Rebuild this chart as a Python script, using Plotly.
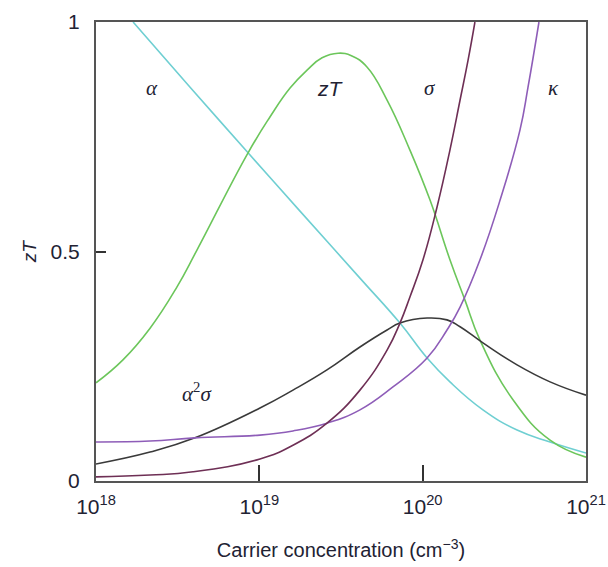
import numpy as np
import plotly.graph_objects as go

# Carrier concentration given as log10(n / cm^-3); curves on a 0..1 scale
alpha_logn = [18.227, 18.576, 18.931, 19.249, 19.616, 19.861, 20.027, 20.167, 20.369, 20.578, 20.780, 21.0]
alpha_val = [1.0, 0.858, 0.715, 0.588, 0.442, 0.344, 0.268, 0.216, 0.155, 0.111, 0.085, 0.061]

zt_logn = [18.0, 18.165, 18.331, 18.496, 18.618, 18.931, 19.065, 19.188, 19.292, 19.384,
           19.482, 19.567, 19.659, 19.782, 19.922, 20.045, 20.167, 20.259, 20.351, 20.553, 20.780, 21.0]
zt_val = [0.214, 0.264, 0.333, 0.423, 0.503, 0.715, 0.793, 0.856, 0.895, 0.922,
          0.932, 0.926, 0.902, 0.830, 0.721, 0.612, 0.482, 0.394, 0.307, 0.177, 0.089, 0.052]

pf_logn = [18.0, 18.331, 18.606, 19.004, 19.206, 19.414, 19.616, 19.782, 19.861, 20.027, 20.149,
           20.229, 20.369, 20.578, 20.780, 21.0]
pf_val = [0.037, 0.063, 0.094, 0.159, 0.198, 0.242, 0.292, 0.329, 0.344, 0.355, 0.351,
          0.336, 0.301, 0.253, 0.216, 0.187]

kappa_logn = [18.0, 18.331, 18.606, 19.004, 19.206, 19.414, 19.616, 19.818, 20.027, 20.149, 20.229,
              20.351, 20.474, 20.596, 20.645, 20.712]
kappa_val = [0.085, 0.087, 0.094, 0.100, 0.109, 0.126, 0.155, 0.205, 0.268, 0.329, 0.379,
             0.482, 0.612, 0.765, 0.858, 1.0]

sigma_logn = [18.0, 18.331, 18.594, 19.004, 19.206, 19.414, 19.616, 19.782, 19.861, 19.922, 20.002,
              20.088, 20.167, 20.229, 20.278, 20.320]
sigma_val = [0.009, 0.013, 0.020, 0.048, 0.078, 0.126, 0.198, 0.285, 0.344, 0.401, 0.482,
             0.597, 0.721, 0.830, 0.917, 1.0]

x_tick_exps = [18, 19, 20, 21]
y_tick_vals = [0, 0.5, 1]
y_tick_text = ["0", "0.5", "1"]

series = [
    (alpha_logn, alpha_val, "#6FCFD2"),
    (zt_logn, zt_val, "#6CC65B"),
    (pf_logn, pf_val, "#3A3A3A"),
    (kappa_logn, kappa_val, "#8E5DB8"),
    (sigma_logn, sigma_val, "#6E2F55"),
]

fig = go.Figure()
for logn, vals, color in series:
    fig.add_trace(go.Scatter(
        x=np.power(10.0, logn), y=vals, mode="lines",
        line=dict(color=color, width=1.6, shape="spline", smoothing=1.3),
        showlegend=False, hoverinfo="skip",
    ))

num_font = "Liberation Sans Narrow, Arial Narrow, Liberation Sans, sans-serif"
greek_font = "Liberation Serif, DejaVu Serif, serif"
text_color = "#222233"

labels = [
    (18.343, 0.856, "<i>α</i>", greek_font),
    (19.433, 0.856, "<i>zT</i>", "Liberation Sans, Arial, sans-serif"),
    (20.045, 0.856, "<i>σ</i>", greek_font),
    (20.798, 0.856, "<i>κ</i>", greek_font),
    (18.618, 0.192, "<i>α</i><sup>2</sup><i>σ</i>", greek_font),
]
for lx, ly, txt, fam in labels:
    fig.add_annotation(x=lx, y=ly, xref="x", yref="y", text=txt, showarrow=False,
                       font=dict(family=fam, size=21, color=text_color))

fig.add_annotation(x=-0.135, y=0.5, xref="paper", yref="paper", text="<i>zT</i>",
                   textangle=-90, showarrow=False, xanchor="center", yanchor="middle",
                   font=dict(family="Liberation Sans, Arial, sans-serif", size=19, color=text_color))

fig.update_layout(
    width=608, height=567,
    margin=dict(l=96, r=22, t=22, b=86, autoexpand=False),
    paper_bgcolor="white", plot_bgcolor="white",
    font=dict(family=num_font, size=20, color=text_color),
    xaxis=dict(
        type="log", range=[18, 21], automargin=False,
        tickvals=[10.0 ** e for e in x_tick_exps],
        ticktext=[f"10<sup>{e}</sup>" for e in x_tick_exps],
        ticks="inside", ticklen=16, tickwidth=1.5, tickcolor="#333333",
        showline=True, linecolor="#555555", linewidth=2, mirror=True,
        showgrid=False, zeroline=False, ticklabelstandoff=6,
        title=dict(text="Carrier concentration (cm<sup>−3</sup>)", standoff=26,
                   font=dict(family=num_font, size=20, color=text_color)),
        tickfont=dict(family=num_font, size=21, color=text_color),
    ),
    yaxis=dict(
        range=[0, 1], tickvals=y_tick_vals, ticktext=y_tick_text, automargin=False,
        ticks="inside", ticklen=10, tickwidth=1.5, tickcolor="#333333",
        showline=True, linecolor="#555555", linewidth=2, mirror=True,
        showgrid=False, zeroline=False, ticklabelstandoff=10,
        tickfont=dict(family=num_font, size=21, color=text_color),
    ),
)

fig.write_html("out.html")
